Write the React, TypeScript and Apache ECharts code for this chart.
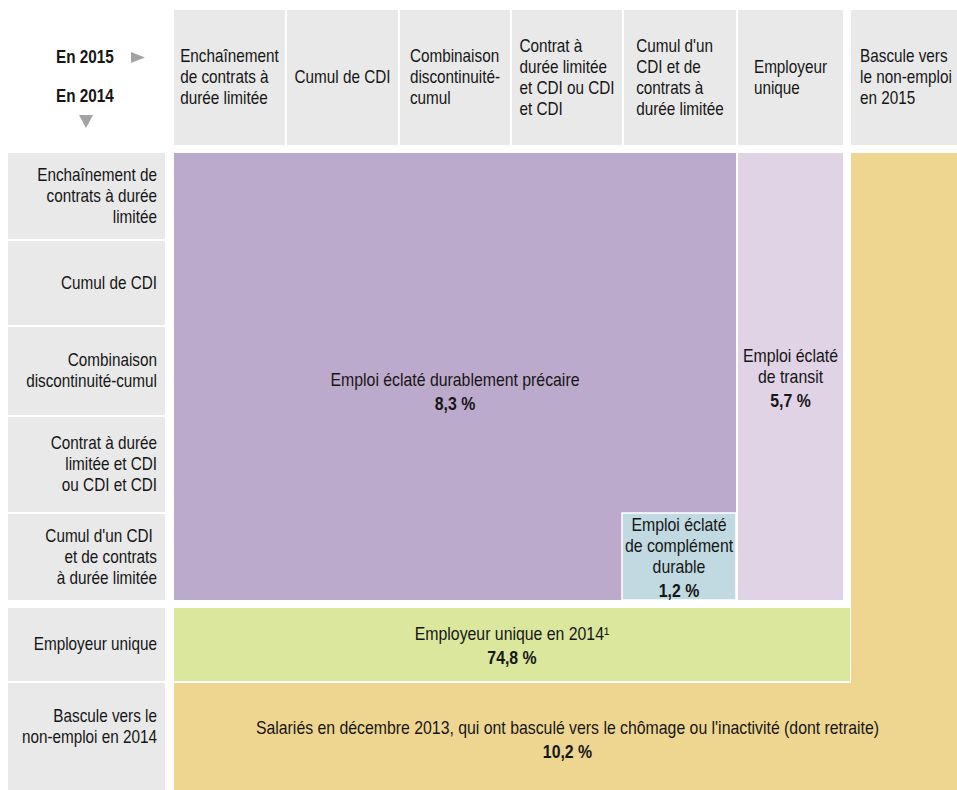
import React, { useEffect, useRef } from "react";
import * as echarts from "echarts";

// ---------- DATA ----------
const columnLabels2015 = [
  "Enchaînement\nde contrats à\ndurée limitée",
  "Cumul de CDI",
  "Combinaison\ndiscontinuité-\ncumul",
  "Contrat à\ndurée limitée\net CDI ou CDI\net CDI",
  "Cumul d'un\nCDI et de\ncontrats à\ndurée limitée",
  "Employeur\nunique",
  "Bascule vers\nle non-emploi\nen 2015",
];

const rowLabels2014 = [
  "Enchaînement de\ncontrats à durée\nlimitée",
  "Cumul de CDI",
  "Combinaison\ndiscontinuité-cumul",
  "Contrat à durée\nlimitée et CDI\nou CDI et CDI",
  "Cumul d'un CDI \net de contrats\nà durée limitée",
  "Employeur unique",
  "Bascule vers le\nnon-emploi en 2014",
];

const groupNames = [
  "Emploi éclaté durablement précaire",
  "Emploi éclaté\nde transit",
  "Emploi éclaté\nde complément\ndurable",
  "Employeur unique en 2014¹",
  "Salariés en décembre 2013, qui ont basculé vers le chômage ou l'inactivité (dont retraite)",
];
const groupShares = [8.3, 5.7, 1.2, 74.8, 10.2];

// cells covered by each group: [fromColumn, toColumn, fromRow, toRow]
const groupSpans: number[][][] = [
  [[0, 4, 0, 4]],
  [[5, 5, 0, 4]],
  [[4, 4, 4, 4]],
  [[0, 5, 5, 5]],
  [[0, 6, 6, 6], [6, 6, 0, 6]],
];

const axisTitles = ["En 2015", "En 2014"];

// ---------- LAYOUT / STYLE ----------
const FONT = "'Liberation Sans', Arial, sans-serif";
const FS = 18;
const NARROW = 0.85; // horizontal squeeze to imitate a condensed typeface
const NARROW_GROUP = 0.88;
const TEXT = "#161616";
const GREY = "#e9e9e9";
const groupColors = ["#bcaacd", "#dfd3e5", "#c1d9e0", "#dbe79d", "#eed691"];
const groupStroke = [null, null, "#ffffff", null, null];
const groupLabelDy = [17, 4, 3, 3, 4];

const W = 957;
const H = 790;
const labelColX = 8;
const labelColW = 157;
const colWidths = [111, 111, 110, 110, 112, 105, 110];
const colGaps = [9, 2, 2, 2, 2, 2, 8];
const headerY = 10;
const headerH = 135;
const rowHeights = [86, 84, 88, 95, 86, 73, 110];
const rowGaps = [8, 2, 2, 2, 2, 8, 2];
const rowLabelDy = [0, 0, 0, 0, 0, 0, -11];

function buildEdges(start: number, sizes: number[], gaps: number[]) {
  const s: number[] = [];
  const e: number[] = [];
  let p = start;
  sizes.forEach((w, i) => {
    p += gaps[i];
    s.push(p);
    p += w;
    e.push(p);
  });
  return { s, e };
}

type Cell = {
  box: number[];
  fill: string;
  stroke?: string | null;
  kind: "header" | "row" | "group" | "plain";
  text?: string;
  bold?: string;
  dy?: number;
};

function buildCells(): Cell[] {
  const cols = buildEdges(labelColX + labelColW, colWidths, colGaps);
  const rows = buildEdges(headerY + headerH, rowHeights, rowGaps);
  const cells: Cell[] = [];
  columnLabels2015.forEach((t, i) => {
    cells.push({ box: [cols.s[i], headerY, cols.e[i], headerY + headerH], fill: GREY, kind: "header", text: t });
  });
  rowLabels2014.forEach((t, j) => {
    cells.push({
      box: [labelColX, rows.s[j], labelColX + labelColW, rows.e[j]],
      fill: GREY,
      kind: "row",
      text: t,
      dy: rowLabelDy[j],
    });
  });
  const groupCells: Cell[] = [];
  groupSpans.forEach((spans, g) => {
    spans.forEach((sp, k) => {
      let x0 = cols.s[sp[0]];
      let y0 = rows.s[sp[2]];
      let x1 = cols.e[sp[1]];
      // the band on the "Employeur unique" row runs up to the last column
      if (sp[2] === 5 && sp[1] === 5) x1 = cols.s[6] - 1;
      // the small inset block slightly overlaps its neighbour
      if (groupStroke[g]) {
        x0 -= 2;
        y0 -= 1;
      }
      const cell: Cell = {
        box: [x0, y0, x1, rows.e[sp[3]]],
        fill: groupColors[g],
        stroke: groupStroke[g],
        kind: k === 0 ? "group" : "plain",
        text: groupNames[g],
        bold: groupShares[g].toFixed(1).replace(".", ",") + " %",
        dy: groupLabelDy[g],
      };
      if (k === 0) groupCells.push(cell);
      else cells.push(cell);
    });
  });
  return [...cells, ...groupCells];
}

const cells = buildCells();

export default function App() {
  const ref = useRef<HTMLDivElement>(null);
  useEffect(() => {
    if (!ref.current) return;
    const chart = echarts.init(ref.current, null, { renderer: "svg" });
    const option: any = {
      animation: false,
      grid: { left: 0, right: 0, top: 0, bottom: 0, containLabel: false },
      xAxis: { type: "value", min: 0, max: W, show: false },
      yAxis: { type: "value", min: 0, max: H, inverse: true, show: false },
      graphic: [
        {
          type: "text",
          x: 56,
          y: 57.5,
          scaleX: NARROW,
          style: {
            text: axisTitles[0],
            font: `bold ${FS}px ${FONT}`,
            fill: TEXT,
            verticalAlign: "middle",
          },
        },
        {
          type: "text",
          x: 56,
          y: 96.5,
          scaleX: NARROW,
          style: {
            text: axisTitles[1],
            font: `bold ${FS}px ${FONT}`,
            fill: TEXT,
            verticalAlign: "middle",
          },
        },
        {
          type: "polygon",
          shape: { points: [[131, 52], [145, 57.5], [131, 63]] },
          style: { fill: "#a3a3a3" },
        },
        {
          type: "polygon",
          shape: { points: [[79, 115], [93, 115], [86, 128]] },
          style: { fill: "#a3a3a3" },
        },
      ],
      series: [
        {
          type: "custom",
          coordinateSystem: "cartesian2d",
          clip: false,
          data: cells.map((c) => c.box),
          renderItem: (params: any, api: any) => {
            const c = cells[params.dataIndex];
            const p0 = api.coord([api.value(0), api.value(1)]);
            const p1 = api.coord([api.value(2), api.value(3)]);
            const x = Math.min(p0[0], p1[0]);
            const y = Math.min(p0[1], p1[1]);
            const w = Math.abs(p1[0] - p0[0]);
            const h = Math.abs(p1[1] - p0[1]);
            const children: any[] = [
              {
                type: "rect",
                shape: { x, y, width: w, height: h },
                style: {
                  fill: c.fill,
                  stroke: c.stroke || null,
                  lineWidth: c.stroke ? 1.5 : 0,
                },
              },
            ];
            if (c.kind === "header" && c.text) {
              children.push({
                type: "text",
                x: x + w / 2,
                y: y + h / 2,
                scaleX: NARROW,
                style: {
                  text: c.text.split("\n").map((l) => `{h|${l}}`).join("\n"),
                  align: "center",
                  verticalAlign: "middle",
                  fill: TEXT,
                  rich: {
                    h: { align: "left", fontSize: FS, fontFamily: FONT, lineHeight: 21, fill: TEXT },
                  },
                },
              });
            } else if (c.kind === "row" && c.text) {
              children.push({
                type: "text",
                x: x + w - 8,
                y: y + h / 2 + (c.dy || 0),
                scaleX: NARROW,
                style: {
                  text: c.text,
                  align: "right",
                  verticalAlign: "middle",
                  fill: TEXT,
                  fontSize: FS,
                  fontFamily: FONT,
                  lineHeight: 21,
                },
              });
            } else if (c.kind === "group" && c.text) {
              const txt =
                c.text.split("\n").map((l) => `{n|${l}}`).join("\n") + `\n{v|${c.bold}}`;
              children.push({
                type: "text",
                x: x + w / 2,
                y: y + h / 2 + (c.dy || 0),
                scaleX: NARROW_GROUP,
                style: {
                  text: txt,
                  align: "center",
                  verticalAlign: "middle",
                  fill: TEXT,
                  rich: {
                    n: { fontSize: FS, fontFamily: FONT, lineHeight: 21, fill: TEXT },
                    v: { fontSize: FS, fontFamily: FONT, fontWeight: "bold", lineHeight: 27, fill: TEXT },
                  },
                },
              });
            }
            return { type: "group", children };
          },
        },
      ],
    };
    chart.setOption(option);
    return () => chart.dispose();
  }, []);
  return (
    <div
      ref={ref}
      style={{ position: "absolute", left: 0, top: 0, width: W, height: H, background: "#ffffff" }}
    />
  );
}
